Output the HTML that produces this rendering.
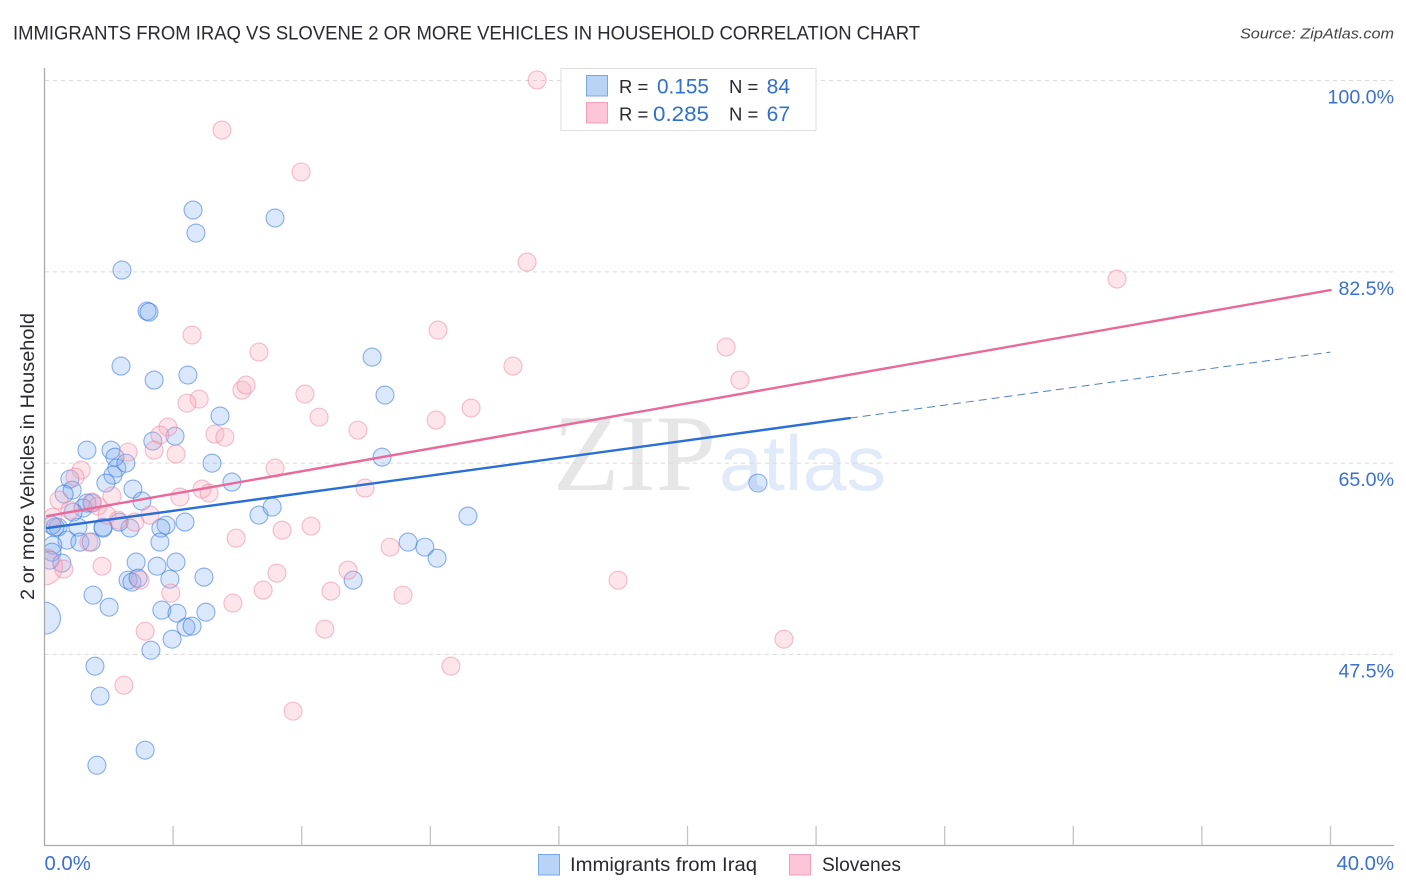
<!DOCTYPE html>
<html>
<head>
<meta charset="utf-8">
<title>Immigrants from Iraq vs Slovene correlation chart</title>
<style>
html,body{margin:0;padding:0;background:#fff;width:1406px;height:892px;overflow:hidden}
svg{display:block;font-family:"Liberation Sans",sans-serif}
</style>
</head>
<body>
<svg id="chart" width="1406" height="892" viewBox="0 0 1406 892" xmlns="http://www.w3.org/2000/svg">
  <text x="13" y="39.500" font-size="19.500" fill="#2a2a30" textLength="907" lengthAdjust="spacingAndGlyphs">IMMIGRANTS FROM IRAQ VS SLOVENE 2 OR MORE VEHICLES IN HOUSEHOLD CORRELATION CHART</text>
  <text x="1394" y="38.500" font-size="15" font-style="italic" fill="#444" text-anchor="end" textLength="154" lengthAdjust="spacingAndGlyphs">Source: ZipAtlas.com</text>
  <g id="watermark">
    <text x="553" y="490" font-family="'Liberation Serif',serif" font-size="109" fill="#e6e6e6" textLength="163" lengthAdjust="spacingAndGlyphs">ZIP</text>
    <text x="719" y="490" font-size="78" fill="#e1eaf9" textLength="167" lengthAdjust="spacingAndGlyphs">atlas</text>
  </g>
  <g id="grid"></g>
  <g id="points-blue"></g>
  <g id="points-pink"></g>
  <rect x="0" y="60" width="44" height="790" fill="#fff"/>
  <g id="axes"></g>
  <g id="trends"></g>
  <text transform="translate(34,456.500) rotate(-90)" font-size="19.500" fill="#2a2a30" text-anchor="middle" textLength="287" lengthAdjust="spacingAndGlyphs">2 or more Vehicles in Household</text>
  <g id="tick-labels"></g>

  <g>
    <rect x="561" y="68.500" width="255" height="62" fill="#fff" stroke="#dedede" stroke-width="1"/>
    <rect x="586.500" y="75.500" width="21" height="20.500" fill="#b9d3f7" stroke="#78a7e6" stroke-width="1"/>
    <rect x="586.500" y="102.500" width="21" height="20.500" fill="#fcc6d8" stroke="#f2a0ba" stroke-width="1"/>
    <text x="619" y="93" font-size="18.500" fill="#2a2a30">R =</text>
    <text x="709" y="93.500" font-size="21" fill="#2f6fd0" text-anchor="end" textLength="52" lengthAdjust="spacingAndGlyphs">0.155</text>
    <text x="729" y="93" font-size="18.500" fill="#2a2a30">N =</text>
    <text x="790" y="93.500" font-size="21" fill="#2f6fd0" text-anchor="end">84</text>
    <text x="619" y="120.500" font-size="18.500" fill="#2a2a30">R =</text>
    <text x="709" y="121" font-size="21" fill="#2f6fd0" text-anchor="end" textLength="56" lengthAdjust="spacingAndGlyphs">0.285</text>
    <text x="729" y="120.500" font-size="18.500" fill="#2a2a30">N =</text>
    <text x="790" y="121" font-size="21" fill="#2f6fd0" text-anchor="end">67</text>
  </g>

  <g>
    <rect x="538.500" y="854.500" width="21" height="20.500" fill="#b9d3f7" stroke="#78a7e6" stroke-width="1"/>
    <text x="570" y="871" font-size="19" fill="#2a2a30" textLength="187" lengthAdjust="spacingAndGlyphs">Immigrants from Iraq</text>
    <rect x="789.500" y="854.500" width="21" height="20.500" fill="#fcc6d8" stroke="#f2a0ba" stroke-width="1"/>
    <text x="822" y="871" font-size="19" fill="#2a2a30" textLength="79" lengthAdjust="spacingAndGlyphs">Slovenes</text>
  </g>
</svg>
<script>
const blueX = [4.62,4.71,7.17,2.41,3.19,3.25,2.38,3.41,4.46,10.19,10.59,5.46,3.37,4.06,1.32,2.07,2.19,2.25,2.53,2.13,1.91,5.21,5.83,10.50,22.19,0.79,0.86,0.61,2.75,3.03,1.32,1.48,1.20,0.89,6.67,7.08,13.17,4.37,3.78,3.62,3.59,2.66,2.32,1.82,1.82,1.04,0.42,0.23,0.33,0.70,1.10,1.45,0.26,0.23,0.17,0.54,2.85,3.50,4.09,3.90,2.60,2.72,2.91,4.96,9.60,11.31,11.83,12.21,1.51,2.01,0.0,3.65,4.12,5.02,4.40,4.59,3.97,3.31,1.57,1.73,1.63,3.13];
const blueY = [88.15,86.05,87.42,82.66,78.91,78.82,73.88,72.60,73.06,74.70,71.23,69.31,67.02,67.47,66.19,66.19,65.55,64.55,65.00,63.91,63.18,65.00,63.27,65.55,63.18,63.54,62.53,62.17,62.63,61.53,61.35,61.35,60.89,60.52,60.25,60.98,60.16,59.61,59.33,59.06,57.78,59.06,59.61,59.06,59.15,59.15,59.15,59.33,59.15,57.96,57.78,57.78,57.50,56.86,56.13,55.86,55.95,55.58,55.95,54.39,54.30,54.12,54.48,54.58,54.30,57.78,57.32,56.31,52.93,51.83,50.82,51.56,51.28,51.37,50.00,50.09,48.90,47.89,46.43,43.69,37.37,38.75];
const blueLarge = [70];
const pinkX = [15.32,5.52,7.98,15.01,33.36,4.59,6.67,12.24,14.57,21.20,21.63,8.10,6.14,6.27,4.81,4.43,8.54,9.75,12.18,13.27,3.84,3.59,5.30,5.61,3.41,2.60,4.09,1.14,0.95,7.17,9.97,4.90,5.12,4.21,2.10,0.45,1.48,1.66,0.79,0.26,1.94,3.28,2.29,2.81,5.96,7.39,8.29,1.38,10.75,1.79,0.0,0.60,9.44,7.23,2.97,17.84,3.93,6.80,8.91,11.15,5.86,3.13,8.72,23.00,12.64,7.73,2.47];
const pinkY = [100.05,95.47,91.63,83.39,81.84,76.72,75.16,77.17,73.88,75.62,72.60,71.32,71.68,72.14,70.86,70.49,69.21,68.02,68.94,70.04,68.30,67.57,67.66,67.38,66.19,66.01,65.83,64.37,63.73,64.55,62.72,62.63,62.26,61.90,61.99,61.62,61.44,61.07,60.70,60.06,60.25,60.25,59.79,59.61,58.14,58.87,59.24,57.78,57.32,55.58,55.50,55.31,55.21,54.94,54.30,54.30,53.11,53.39,53.30,52.93,52.20,49.63,49.82,48.90,46.43,42.32,44.69];
const pinkLarge = [50];
const blueTrendX = [0.08, 25.05];
const blueTrendY = [59.06, 69.12];
const blueProjectionX = [25.05, 40];
const blueProjectionY = [69.12, 75.16];
const pinkTrendX = [0.08, 40];
const pinkTrendY = [60.16, 80.83];
const yTickValues = [100, 82.5, 65, 47.5];
const yTickLabels = ["100.0%", "82.5%", "65.0%", "47.5%"];
const xTickValues = [4, 8, 12, 16, 20, 24, 28, 32, 36, 40];
const xEndValues = [0, 40];
const xEndLabels = ["0.0%", "40.0%"];

const NS = "http://www.w3.org/2000/svg";
function xScale(v) { return 44.5 + v * 32.15; }
function yScale(v) { return 80.5 + (100 - v) * 10.933; }
function make(tag, attrs, parent) {
  const el = document.createElementNS(NS, tag);
  for (const k in attrs) el.setAttribute(k, attrs[k]);
  parent.appendChild(el);
  return el;
}

const grid = document.getElementById("grid");
yTickValues.forEach(function (v) {
  const ln = make("line", {x1: 45, x2: 1394, y1: yScale(v), y2: yScale(v), stroke: "#d9d9d9", "stroke-width": 1, "stroke-dasharray": "4 4"}, grid);
  
  
});

function drawPoints(groupId, xs, ys, large, largeRadius, fill, stroke, name) {
  const g = document.getElementById(groupId);
  xs.forEach(function (xv, i) {
    const big = large.indexOf(i) >= 0;
    const c = make("circle", {cx: xScale(xv), cy: yScale(ys[i]), r: big ? largeRadius : 9, fill: fill, stroke: stroke, "stroke-width": 1.1}, g);
    
    
  });
}
drawPoints("points-blue", blueX, blueY, blueLarge, 16, "rgba(110,165,240,0.25)", "rgba(45,115,220,0.55)", "iraq-point");
drawPoints("points-pink", pinkX, pinkY, pinkLarge, 18, "rgba(248,170,190,0.30)", "rgba(236,125,155,0.50)", "slovenes-point");

const axes = document.getElementById("axes");
const yAxisLine = make("line", {x1: 44.5, x2: 44.5, y1: 68, y2: 846, stroke: "#aaa", "stroke-width": 1.3}, axes);


const xAxisLine = make("line", {x1: 44, x2: 1394, y1: 845.5, y2: 845.5, stroke: "#aaa", "stroke-width": 1.3}, axes);


xTickValues.forEach(function (v) {
  const t = make("line", {x1: xScale(v), x2: xScale(v), y1: 826, y2: 845, stroke: "#c4c4c4", "stroke-width": 1.3}, axes);
  
  
});

const trends = document.getElementById("trends");
const blueLine = make("line", {x1: xScale(blueTrendX[0]), y1: yScale(blueTrendY[0]), x2: xScale(blueTrendX[1]), y2: yScale(blueTrendY[1]), stroke: "#2a6fd6", "stroke-width": 2.4, "stroke-linecap": "round"}, trends);


const blueDash = make("line", {x1: xScale(blueProjectionX[0]), y1: yScale(blueProjectionY[0]), x2: xScale(blueProjectionX[1]), y2: yScale(blueProjectionY[1]), stroke: "#4d80c8", "stroke-width": 1, "stroke-dasharray": "8 5"}, trends);


const pinkLine = make("line", {x1: xScale(pinkTrendX[0]), y1: yScale(pinkTrendY[0]), x2: xScale(pinkTrendX[1]), y2: yScale(pinkTrendY[1]), stroke: "#e8699a", "stroke-width": 2.4, "stroke-linecap": "round"}, trends);



const labels = document.getElementById("tick-labels");
yTickValues.forEach(function (v, i) {
  const t = make("text", {x: 1394, y: yScale(v) + 23, "font-size": 19.6, fill: "#3a70d0", "text-anchor": "end"}, labels);
  t.textContent = yTickLabels[i];
  
  
});
xEndValues.forEach(function (v, i) {
  const isFirst = i === 0;
  const t = make("text", {x: isFirst ? xScale(v) : 1394, y: 870, "font-size": 20.3, fill: "#3a70d0", "text-anchor": isFirst ? "start" : "end"}, labels);
  t.textContent = xEndLabels[i];
  
  
});
</script>
</body>
</html>
